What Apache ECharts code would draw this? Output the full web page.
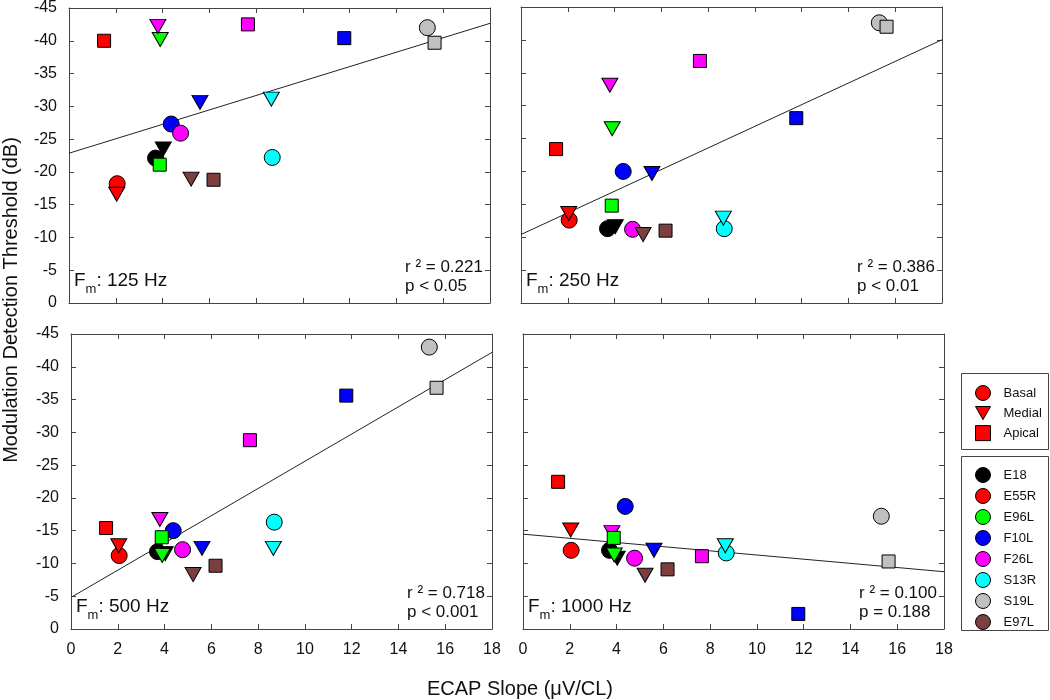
<!DOCTYPE html>
<html><head><meta charset="utf-8">
<script src="https://cdn.jsdelivr.net/npm/echarts@6/dist/echarts.min.js"></script>
<style>html,body{margin:0;padding:0;background:#fff}#c{width:1050px;height:700px}</style>
</head><body><div id="c"></div>
<script>
// ---------- data ----------
const subjects = ['E18','E55R','E96L','F10L','F26L','S13R','S19L','E97L'];
const sites = ['Basal','Medial','Apical'];
const elecSubject = ['E18','E18','E55R','E55R','E55R','E96L','E96L','F10L','F10L','F10L','F26L','F26L','F26L','S13R','S13R','S19L','S19L','E97L','E97L'];
const elecSite    = ['Basal','Medial','Basal','Medial','Apical','Medial','Apical','Basal','Medial','Apical','Basal','Medial','Apical','Basal','Medial','Basal','Apical','Medial','Apical'];
const ecapSlope   = [3.70,4.03,2.06,2.04,1.50,3.90,3.88,4.37,5.60,11.77,4.77,3.80,7.65,8.69,8.65,15.32,15.63,5.22,6.18];
const thr125  = [-22.1,-23.5,-18.2,-16.6,-40.0,-40.2,-21.1,-27.3,-30.6,-40.4,-25.9,-42.2,-42.5,-22.2,-31.1,-42.0,-39.7,-18.9,-18.8];
const thr250  = [-11.3,-11.6,-12.6,-13.6,-23.4,-26.5,-14.8,-20.0,-19.7,-28.1,-11.2,-33.1,-36.8,-11.3,-12.9,-42.6,-42.0,-10.4,-11.0];
const thr500  = [-11.8,-11.5,-11.2,-12.7,-15.4,-11.2,-14.0,-15.0,-12.3,-35.6,-12.1,-16.7,-28.8,-16.3,-12.3,-43.0,-36.8,-8.3,-9.65];
const thr1000 = [-12.0,-10.8,-12.0,-15.1,-22.45,-11.3,-13.9,-18.7,-12.0,-2.3,-10.8,-14.7,-11.1,-11.6,-12.7,-17.2,-10.3,-8.2,-9.1];
const fitX = [0, 18];
const fit125 = [-22.85, -42.66];
const fit250 = [-10.41, -40.02];
const fit500 = [-4.82, -42.2];
const fit1000 = [-14.47, -8.74];
const fmLabels = ['125 Hz','250 Hz','500 Hz','1000 Hz'];
const r2Labels = ['0.221','0.386','0.718','0.100'];
const pLabels = ['p < 0.05','p < 0.01','p < 0.001','p = 0.188'];
const xTicks = [0,2,4,6,8,10,12,14,16,18];
const yTicks = [-45,-40,-35,-30,-25,-20,-15,-10,-5,0];

// ---------- styles ----------
const subjColor = {E18:'#000000',E55R:'#ff0000',E96L:'#00ff00',F10L:'#0000ff',F26L:'#ff00ff',S13R:'#00ffff',S19L:'#c0c0c0',E97L:'#7b3f3f'};
const siteSymbol = {Basal:'circle',Medial:'triangle',Apical:'rect'};
const siteSize = {Basal:16,Medial:[16,14],Apical:13};
const siteRotate = {Basal:0,Medial:180,Apical:0};
const FONT = 'Liberation Sans, Arial, sans-serif';
const AX = '#444';
const grids = [
  {left:69, top:7, width:421, height:296},
  {left:521, top:7, width:421, height:296},
  {left:71, top:334, width:421, height:295},
  {left:523, top:334, width:421, height:295}
];
const panels = [thr125, thr250, thr500, thr1000];
const fits = [fit125, fit250, fit500, fit1000];

const xAxes = [], yAxes = [], series = [], graphics = [];
grids.forEach((g, i) => {
  const showX = i >= 2, showY = i % 2 === 0;
  const common = {type:'value', gridIndex:i, splitLine:{show:false},
    axisLine:{show:true, onZero:false, lineStyle:{color:AX, width:1}},
    axisTick:{show:true, inside:true, length:5, lineStyle:{color:AX}}};
  xAxes.push(Object.assign({}, common, {position:'bottom', min:xTicks[0], max:xTicks[xTicks.length-1], interval:2,
    axisLabel:{show:showX, fontSize:16, fontFamily:FONT, color:'#111', margin:13}}));
  xAxes.push(Object.assign({}, common, {position:'top', min:xTicks[0], max:xTicks[xTicks.length-1], interval:2, axisLabel:{show:false}}));
  yAxes.push(Object.assign({}, common, {position:'left', min:yTicks[0], max:yTicks[yTicks.length-1], interval:5, inverse:true,
    axisLabel:{show:showY, fontSize:16, fontFamily:FONT, color:'#111', margin:12}}));
  yAxes.push(Object.assign({}, common, {position:'right', min:yTicks[0], max:yTicks[yTicks.length-1], interval:5, inverse:true, axisLabel:{show:false}}));

  // regression line
  series.push({type:'line', xAxisIndex:2*i, yAxisIndex:2*i, data: fitX.map((x,k)=>[x, fits[i][k]]),
    symbol:'none', silent:true, z:1, lineStyle:{color:'#222', width:1}, legendHoverLink:false, name:'fit'+i});

  // markers: by site then subject
  sites.forEach(site => {
    subjects.forEach(subj => {
      const data = [];
      ecapSlope.forEach((x, k) => {
        if (elecSubject[k] === subj && elecSite[k] === site) data.push([x, panels[i][k]]);
      });
      if (!data.length) return;
      series.push({type:'scatter', name:subj, xAxisIndex:2*i, yAxisIndex:2*i, data,
        symbol:siteSymbol[site], symbolSize:siteSize[site], symbolRotate:siteRotate[site], z:3,
        itemStyle:{color:subjColor[subj], borderColor:'#000', borderWidth:1, opacity:1}});
    });
  });

  const bottom = g.top + g.height;
  const fx = g.left + 5, fy = bottom - 22;
  graphics.push({type:'text', x:fx, y:fy, z:10,
    style:{text:'F', fontSize:19, fontFamily:FONT, fill:'#111', textVerticalAlign:'middle'}});
  graphics.push({type:'text', x:fx+11.6, y:fy+8, z:10,
    style:{text:'m', fontSize:13, fontFamily:FONT, fill:'#111', textVerticalAlign:'middle'}});
  graphics.push({type:'text', x:fx+22.4, y:fy, z:10,
    style:{text:': '+fmLabels[i], fontSize:19, fontFamily:FONT, fill:'#111', textVerticalAlign:'middle'}});
  graphics.push({type:'text', x:g.left+336, y:bottom-45, z:10,
    style:{text:'r ² = '+r2Labels[i]+'\n'+pLabels[i], fontSize:17, fontFamily:FONT, fill:'#111', lineHeight:19}});
});

// legend dummy series for sites
sites.forEach(site => {
  series.push({type:'scatter', name:site, xAxisIndex:0, yAxisIndex:0, data:[],
    symbol:siteSymbol[site], itemStyle:{color:'#ff0000', borderColor:'#000', borderWidth:1, opacity:1}});
});

// axis titles
graphics.push({type:'text', x:11, y:300, rotation:Math.PI/2, z:10,
  style:{text:'Modulation Detection Threshold (dB)', fontSize:20, fontFamily:FONT, fill:'#111', textAlign:'center', textVerticalAlign:'middle'}});
graphics.push({type:'text', x:520, y:689, z:10,
  style:{text:'ECAP Slope (μV/CL)', fontSize:20, fontFamily:FONT, fill:'#111', textAlign:'center', textVerticalAlign:'middle'}});
// legend boxes
graphics.push({type:'rect', x:961.5, y:373.5, z:0, shape:{width:87, height:76}, style:{fill:'#fff', stroke:'#444', lineWidth:1}});
graphics.push({type:'rect', x:961.5, y:456.5, z:0, shape:{width:87, height:174}, style:{fill:'#fff', stroke:'#444', lineWidth:1}});

const legendCommon = {orient:'vertical', itemWidth:15, itemHeight:15, itemGap:5, selectedMode:false,
  textStyle:{fontSize:13, fontFamily:FONT, color:'#111', padding:[0,0,0,8]},
  itemStyle:{borderColor:'#000', borderWidth:1, opacity:1}, z:5, padding:0};
const legends = [
  Object.assign({}, legendCommon, {left:975, top:385, data:[
    {name:'Basal', icon:'circle'},
    {name:'Medial', icon:'path://M0,0L16,0L8,14Z'},
    {name:'Apical', icon:'path://M0,0L14,0L14,14L0,14Z'}]}),
  Object.assign({}, legendCommon, {left:975, top:467, data: subjects.map(s => ({name:s, icon:'circle'}))})
];

const chart = echarts.init(document.getElementById('c'), null, {renderer:'canvas'});
chart.setOption({
  animation:false,
  backgroundColor:'#fff',
  grid: grids,
  xAxis: xAxes,
  yAxis: yAxes,
  legend: legends,
  series,
  graphic: graphics
});
</script>
</body></html>
